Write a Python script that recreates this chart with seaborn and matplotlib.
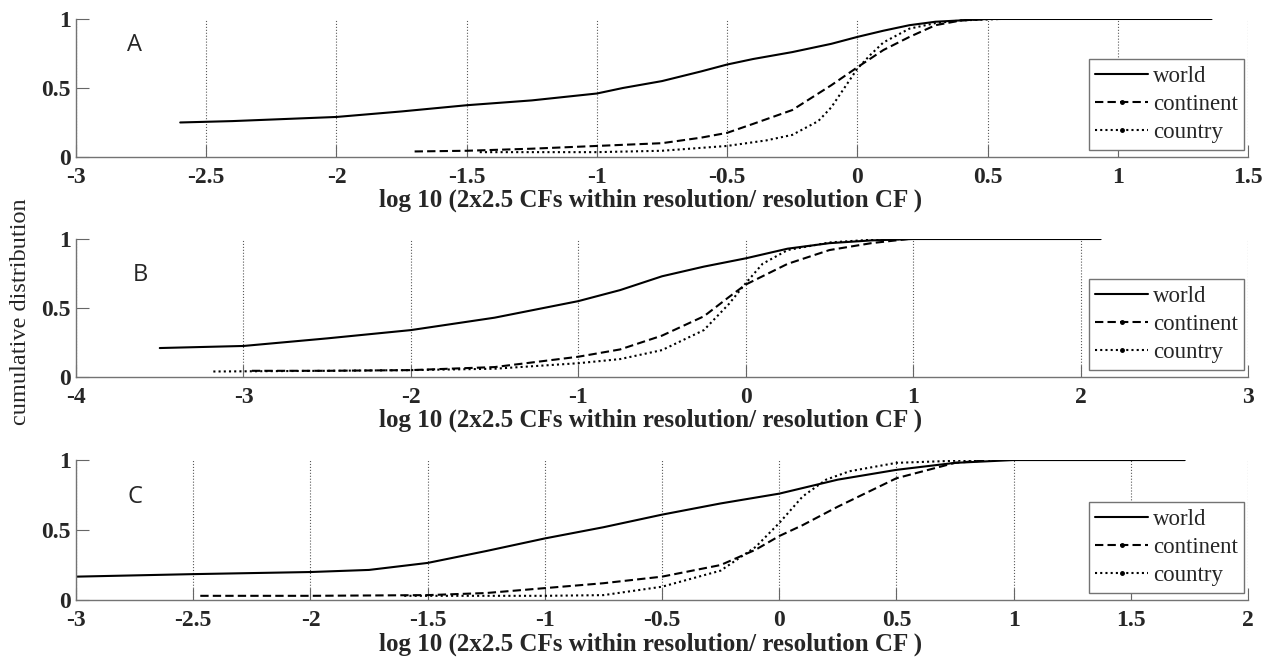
import pandas as pd
import matplotlib.pyplot as plt
import seaborn as sns
from matplotlib.lines import Line2D

# 读数：三个面板，每个面板三条累积分布曲线
a_world_x = [-2.6, -2.5, -2.4, -2.2, -2.0, -1.75, -1.5, -1.25, -1.0, -0.9, -0.75, -0.6, -0.5, -0.4, -0.25, -0.1, 0.0, 0.1, 0.2, 0.3, 0.4, 0.5, 0.7, 1.0, 1.36]
a_world_y = [0.25, 0.255, 0.26, 0.275, 0.29, 0.33, 0.375, 0.41, 0.46, 0.5, 0.55, 0.62, 0.67, 0.71, 0.76, 0.82, 0.87, 0.915, 0.955, 0.98, 0.99, 1.0, 1.0, 1.0, 1.0]
a_cont_x = [-1.7, -1.5, -1.25, -1.0, -0.75, -0.6, -0.5, -0.4, -0.25, -0.1, 0.0, 0.1, 0.2, 0.3, 0.4, 0.5, 0.55]
a_cont_y = [0.04, 0.045, 0.06, 0.08, 0.1, 0.14, 0.175, 0.24, 0.34, 0.52, 0.65, 0.775, 0.87, 0.955, 0.99, 1.0, 1.0]
a_ctry_x = [-1.45, -1.25, -1.0, -0.75, -0.5, -0.35, -0.25, -0.15, -0.1, -0.05, 0.0, 0.05, 0.1, 0.2, 0.3, 0.4, 0.55]
a_ctry_y = [0.035, 0.035, 0.035, 0.045, 0.08, 0.12, 0.16, 0.26, 0.36, 0.5, 0.64, 0.74, 0.83, 0.93, 0.97, 0.99, 1.0]

b_world_x = [-3.5, -3.0, -2.5, -2.0, -1.5, -1.0, -0.75, -0.5, -0.25, 0.0, 0.25, 0.5, 0.75, 1.0, 1.5, 2.12]
b_world_y = [0.21, 0.225, 0.28, 0.34, 0.43, 0.55, 0.63, 0.73, 0.8, 0.86, 0.93, 0.97, 0.99, 1.0, 1.0, 1.0]
b_cont_x = [-2.95, -2.5, -2.0, -1.5, -1.0, -0.75, -0.5, -0.25, -0.1, 0.0, 0.25, 0.5, 0.75, 0.97]
b_cont_y = [0.045, 0.045, 0.05, 0.072, 0.147, 0.2, 0.3, 0.44, 0.58, 0.67, 0.82, 0.92, 0.97, 1.0]
b_ctry_x = [-3.18, -2.5, -2.0, -1.5, -1.0, -0.75, -0.5, -0.25, -0.1, 0.0, 0.1, 0.25, 0.5, 0.75, 0.95]
b_ctry_y = [0.04, 0.045, 0.05, 0.06, 0.1, 0.13, 0.195, 0.34, 0.53, 0.68, 0.82, 0.92, 0.975, 0.995, 1.0]

c_world_x = [-3.0, -2.5, -2.0, -1.75, -1.5, -1.25, -1.0, -0.75, -0.5, -0.25, 0.0, 0.25, 0.5, 0.75, 1.0, 1.73]
c_world_y = [0.167, 0.185, 0.2, 0.215, 0.265, 0.35, 0.44, 0.52, 0.61, 0.69, 0.76, 0.86, 0.93, 0.98, 1.0, 1.0]
c_cont_x = [-2.47, -2.0, -1.5, -1.25, -1.0, -0.75, -0.5, -0.25, -0.1, 0.0, 0.1, 0.25, 0.5, 0.75, 0.9]
c_cont_y = [0.03, 0.03, 0.035, 0.05, 0.085, 0.12, 0.167, 0.25, 0.36, 0.457, 0.535, 0.667, 0.87, 0.98, 1.0]
c_ctry_x = [-1.6, -1.25, -1.0, -0.75, -0.5, -0.25, -0.1, 0.0, 0.1, 0.2, 0.3, 0.5, 0.75, 0.85]
c_ctry_y = [0.03, 0.03, 0.03, 0.035, 0.095, 0.21, 0.38, 0.55, 0.74, 0.86, 0.92, 0.98, 0.995, 1.0]

series = ['world', 'continent', 'country']
panel_labels = ['A', 'B', 'C']
xticks_a = [-3, -2.5, -2, -1.5, -1, -0.5, 0, 0.5, 1, 1.5]
xticks_b = [-4, -3, -2, -1, 0, 1, 2, 3]
xticks_c = [-3, -2.5, -2, -1.5, -1, -0.5, 0, 0.5, 1, 1.5, 2]
yticks = [0, 0.5, 1]
xlabel = 'log 10 (2x2.5 CFs within resolution/ resolution CF )'
ylabel = 'cumulative distribution'

panels = {
    'A': [(a_world_x, a_world_y), (a_cont_x, a_cont_y), (a_ctry_x, a_ctry_y)],
    'B': [(b_world_x, b_world_y), (b_cont_x, b_cont_y), (b_ctry_x, b_ctry_y)],
    'C': [(c_world_x, c_world_y), (c_cont_x, c_cont_y), (c_ctry_x, c_ctry_y)],
}
rows = []
for p, curves in panels.items():
    for name, (xs, ys) in zip(series, curves):
        for x, y in zip(xs, ys):
            rows.append({'panel': p, 'series': name, 'x': x, 'y': y})
df = pd.DataFrame(rows)

sns.set_theme(style='white')
plt.rcParams['font.family'] = ['Liberation Serif', 'DejaVu Serif']
plt.rcParams['axes.unicode_minus'] = False

fig = plt.figure(figsize=(12.74, 6.59), dpi=100)
boxes = [[0.0597, 0.7618, 0.9199, 0.2094],
         [0.0597, 0.4279, 0.9199, 0.2094],
         [0.0597, 0.0895, 0.9199, 0.2124]]
xlims = [(-3, 1.5), (-4, 3), (-3, 2)]
xticks_all = [xticks_a, xticks_b, xticks_c]
label_pos = [(0.05, 0.81), (0.055, 0.74), (0.05, 0.735)]
dashes = {'world': '', 'continent': (4, 2), 'country': (1, 1.5)}

for k, p in enumerate(panel_labels):
    ax = fig.add_axes(boxes[k])
    sub = df[df['panel'] == p]
    sns.lineplot(data=sub, x='x', y='y', style='series', dashes=dashes,
                 color='black', linewidth=1.5, sort=False, estimator=None,
                 units='series', legend=False, ax=ax)
    ax.set_xlim(xlims[k])
    ax.set_ylim(0, 1)
    xt = xticks_all[k]
    ax.set_xticks(xt)
    ax.set_xticklabels([('%g' % v) for v in xt], fontsize=17, fontweight='bold')
    ax.set_yticks(yticks)
    ax.set_yticklabels(['0', '0.5', '1'], fontsize=17, fontweight='bold')
    for v in xt:
        ax.axvline(v, color='0.35', linestyle=':', linewidth=0.8, zorder=0)
    ax.tick_params(direction='in', length=9, width=0.8, color='0.4',
                   bottom=True, left=True)
    ax.tick_params(axis='x', pad=7.5)
    ax.tick_params(axis='y', pad=4)
    for s in ['top', 'right']:
        ax.spines[s].set_visible(False)
    for s in ['left', 'bottom']:
        ax.spines[s].set_color('0.45')
        ax.spines[s].set_linewidth(1.0)
    ax.set_xlabel(xlabel, fontsize=18, fontweight='bold')
    ax.xaxis.set_label_coords(0.49, -0.23)
    ax.set_ylabel('')
    ax.text(label_pos[k][0], label_pos[k][1], p, transform=ax.transAxes,
            fontsize=17, family=['Open Sans', 'DejaVu Sans'], ha='center', va='center')
    handles = [Line2D([], [], color='black', lw=1.5, linestyle='-'),
               Line2D([], [], color='black', lw=1.5, linestyle=(0, (4, 2)), marker='.', markersize=5),
               Line2D([], [], color='black', lw=1.5, linestyle=(0, (1, 1.5)), marker='.', markersize=5)]
    leg = ax.legend(handles, series, loc='lower right', bbox_to_anchor=(0.997, 0.05),
                    fontsize=16.5, frameon=True, fancybox=False, framealpha=1,
                    edgecolor='0.45', handlelength=2.3, handletextpad=0.2,
                    labelspacing=0.3, borderpad=0.3, borderaxespad=0)
    leg.get_frame().set_linewidth(1.0)

fig.text(0.016, 0.527, ylabel, rotation=90, fontsize=17.5, ha='center', va='center')

plt.savefig('out.png', dpi=100)
plt.close()
